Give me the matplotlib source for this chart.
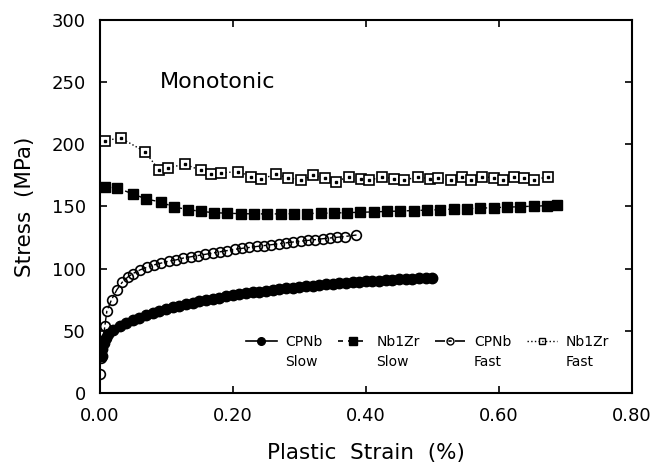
import matplotlib
matplotlib.use("Agg")
import matplotlib.pyplot as plt
from matplotlib.lines import Line2D

# CPNb slow (filled circles, solid line)
cpnb_slow_x = [0.003, 0.004, 0.006, 0.009, 0.013, 0.02, 0.03, 0.04, 0.05, 0.06,
               0.07, 0.08, 0.09, 0.10, 0.11, 0.12, 0.13, 0.14, 0.15, 0.16,
               0.17, 0.18, 0.19, 0.20, 0.21, 0.22, 0.23, 0.24, 0.25, 0.26,
               0.27, 0.28, 0.29, 0.30, 0.31, 0.32, 0.33, 0.34, 0.35, 0.36,
               0.37, 0.38, 0.39, 0.40, 0.41, 0.42, 0.43, 0.44, 0.45, 0.46,
               0.47, 0.48, 0.49, 0.50]
cpnb_slow_y = [30, 35, 40, 44, 47.5, 51, 54, 56, 58.5, 60.5,
               62.5, 64.5, 66, 67.5, 69, 70.3, 71.5, 72.7, 73.8, 74.8,
               75.8, 76.7, 77.6, 78.4, 79.2, 80, 80.8, 81.5, 82.2, 82.9,
               83.5, 84.1, 84.7, 85.3, 85.8, 86.3, 86.8, 87.3, 87.8, 88.2,
               88.6, 89.0, 89.4, 89.8, 90.1, 90.4, 90.7, 91.0, 91.3, 91.6,
               91.9, 92.1, 92.3, 92.6]

# Nb1Zr slow (filled squares, dashed line)
nb_slow_x = [0.008, 0.026, 0.05, 0.07, 0.092, 0.112, 0.133, 0.152, 0.172, 0.192,
             0.212, 0.232, 0.252, 0.272, 0.292, 0.312, 0.332, 0.352, 0.372, 0.392,
             0.412, 0.432, 0.452, 0.472, 0.492, 0.512, 0.532, 0.552, 0.572, 0.592,
             0.612, 0.632, 0.652, 0.672, 0.687]
nb_slow_y = [165.5, 165, 160, 156, 153.5, 149.5, 147.5, 146, 145, 144.5,
             144.2, 144, 144, 144, 144.2, 144.3, 144.5, 144.7, 145, 145.3,
             145.6, 146, 146.3, 146.7, 147, 147.4, 147.8, 148.2, 148.6, 149,
             149.4, 149.8, 150.2, 150.6, 151]

# CPNb fast (open circles, dash pattern)
cpnb_fast_x = [0.0, 0.002, 0.005, 0.008, 0.011, 0.018, 0.026, 0.034, 0.042, 0.050,
               0.061, 0.071, 0.082, 0.093, 0.104, 0.115, 0.126, 0.137, 0.148, 0.159,
               0.170, 0.181, 0.192, 0.203, 0.214, 0.225, 0.236, 0.247, 0.258, 0.269,
               0.280, 0.291, 0.302, 0.313, 0.324, 0.335, 0.346, 0.357, 0.368, 0.386]
cpnb_fast_y = [15, 28, 42, 54, 66, 75, 83, 89, 93, 96,
               99, 101, 103, 104.5, 106, 107, 108.5, 109.5, 110.5, 111.5,
               112.5, 113.5, 114.5, 115.5, 116.3, 117, 117.8, 118.5, 119.2, 120,
               120.7, 121.4, 122, 122.7, 123.3, 124, 124.6, 125.2, 125.8, 127]

# Nb1Zr fast (open squares, dotted line)
nb_fast_x = [0.008, 0.032, 0.068, 0.090, 0.103, 0.128, 0.152, 0.168, 0.183, 0.208,
             0.228, 0.243, 0.265, 0.283, 0.303, 0.320, 0.338, 0.355, 0.375, 0.393,
             0.405, 0.425, 0.443, 0.458, 0.478, 0.496, 0.508, 0.528, 0.545, 0.558,
             0.575, 0.592, 0.606, 0.622, 0.638, 0.652, 0.673]
nb_fast_y = [203, 205, 194, 179, 181, 184, 179, 176, 177, 178,
             174, 172, 176, 173, 171, 175, 173, 170, 174, 172,
             171, 174, 172, 171, 174, 172, 173, 171, 174, 171,
             174, 173, 171, 174, 173, 171, 174]

materials = ["CPNb", "Nb1Zr", "CPNb", "Nb1Zr"]
rates = ["Slow", "Slow", "Fast", "Fast"]

plt.rcParams["font.family"] = ["DejaVu Sans"]

fig = plt.figure(figsize=(6.55, 4.74), dpi=100)
ax = fig.add_axes([0.152, 0.171, 0.813, 0.787])

ax.plot(cpnb_slow_x, cpnb_slow_y, "-", color="black", lw=1.2,
        marker="o", ms=7.5, mfc="black", mec="black")
ax.plot(nb_slow_x, nb_slow_y, "--", color="black", lw=1.0, dashes=(3, 2),
        marker="s", ms=7.5, mfc="black", mec="black")
ax.plot(cpnb_fast_x, cpnb_fast_y, color="black", lw=1.0, dashes=(6, 2, 2, 2),
        marker="o", ms=7, mfc="none", mec="black", mew=1.2)
ax.plot(nb_fast_x, nb_fast_y, ":", color="black", lw=1.0,
        marker="s", ms=7.5, mfc="white", mec="black", mew=1.2)
ax.plot(nb_fast_x, nb_fast_y, ls="none", marker="s", ms=1.5,
        mfc="black", mec="black")

handles = [
    Line2D([], [], color="black", lw=1.2, ls="-", marker="o", ms=5.5),
    Line2D([], [], color="black", lw=1.2, dashes=(3, 3), marker="s", ms=5.5),
    Line2D([], [], color="black", lw=1.2, dashes=(6, 2, 2, 2), marker="o",
           ms=5, mfc="none"),
    Line2D([], [], color="black", lw=1.0, ls=":", marker="s", ms=5, mfc="none"),
]
leg = ax.legend(handles, materials, loc="lower right", ncol=4, frameon=False,
                fontsize=10, handlelength=2.2, columnspacing=1.1,
                handletextpad=0.6, bbox_to_anchor=(0.98, 0.085))

# second line of each legend label, under the first
fig.canvas.draw()
for t, r in zip(leg.get_texts(), rates):
    bb = t.get_window_extent()
    fig.text(bb.x0 / fig.bbox.width, (bb.y0 - 20) / fig.bbox.height, r,
             fontsize=10, ha="left", va="bottom")

ax.text(0.09, 250, "Monotonic", fontsize=16, va="center")

ax.set_xlim(0, 0.8)
ax.set_ylim(0, 300)
ax.set_xticks([0, 0.2, 0.4, 0.6, 0.8])
ax.set_xticklabels(["0.00", "0.20", "0.40", "0.60", "0.80"])
ax.set_yticks([0, 50, 100, 150, 200, 250, 300])
ax.tick_params(direction="in", top=True, right=True, length=5, width=1.2,
               labelsize=13, pad=10)
for s in ax.spines.values():
    s.set_linewidth(1.5)

ax.set_xlabel("Plastic  Strain  (%)", fontsize=15.5, labelpad=13)
ax.set_ylabel("Stress  (MPa)", fontsize=15.5, labelpad=12)

fig.savefig("out.png", dpi=100)
